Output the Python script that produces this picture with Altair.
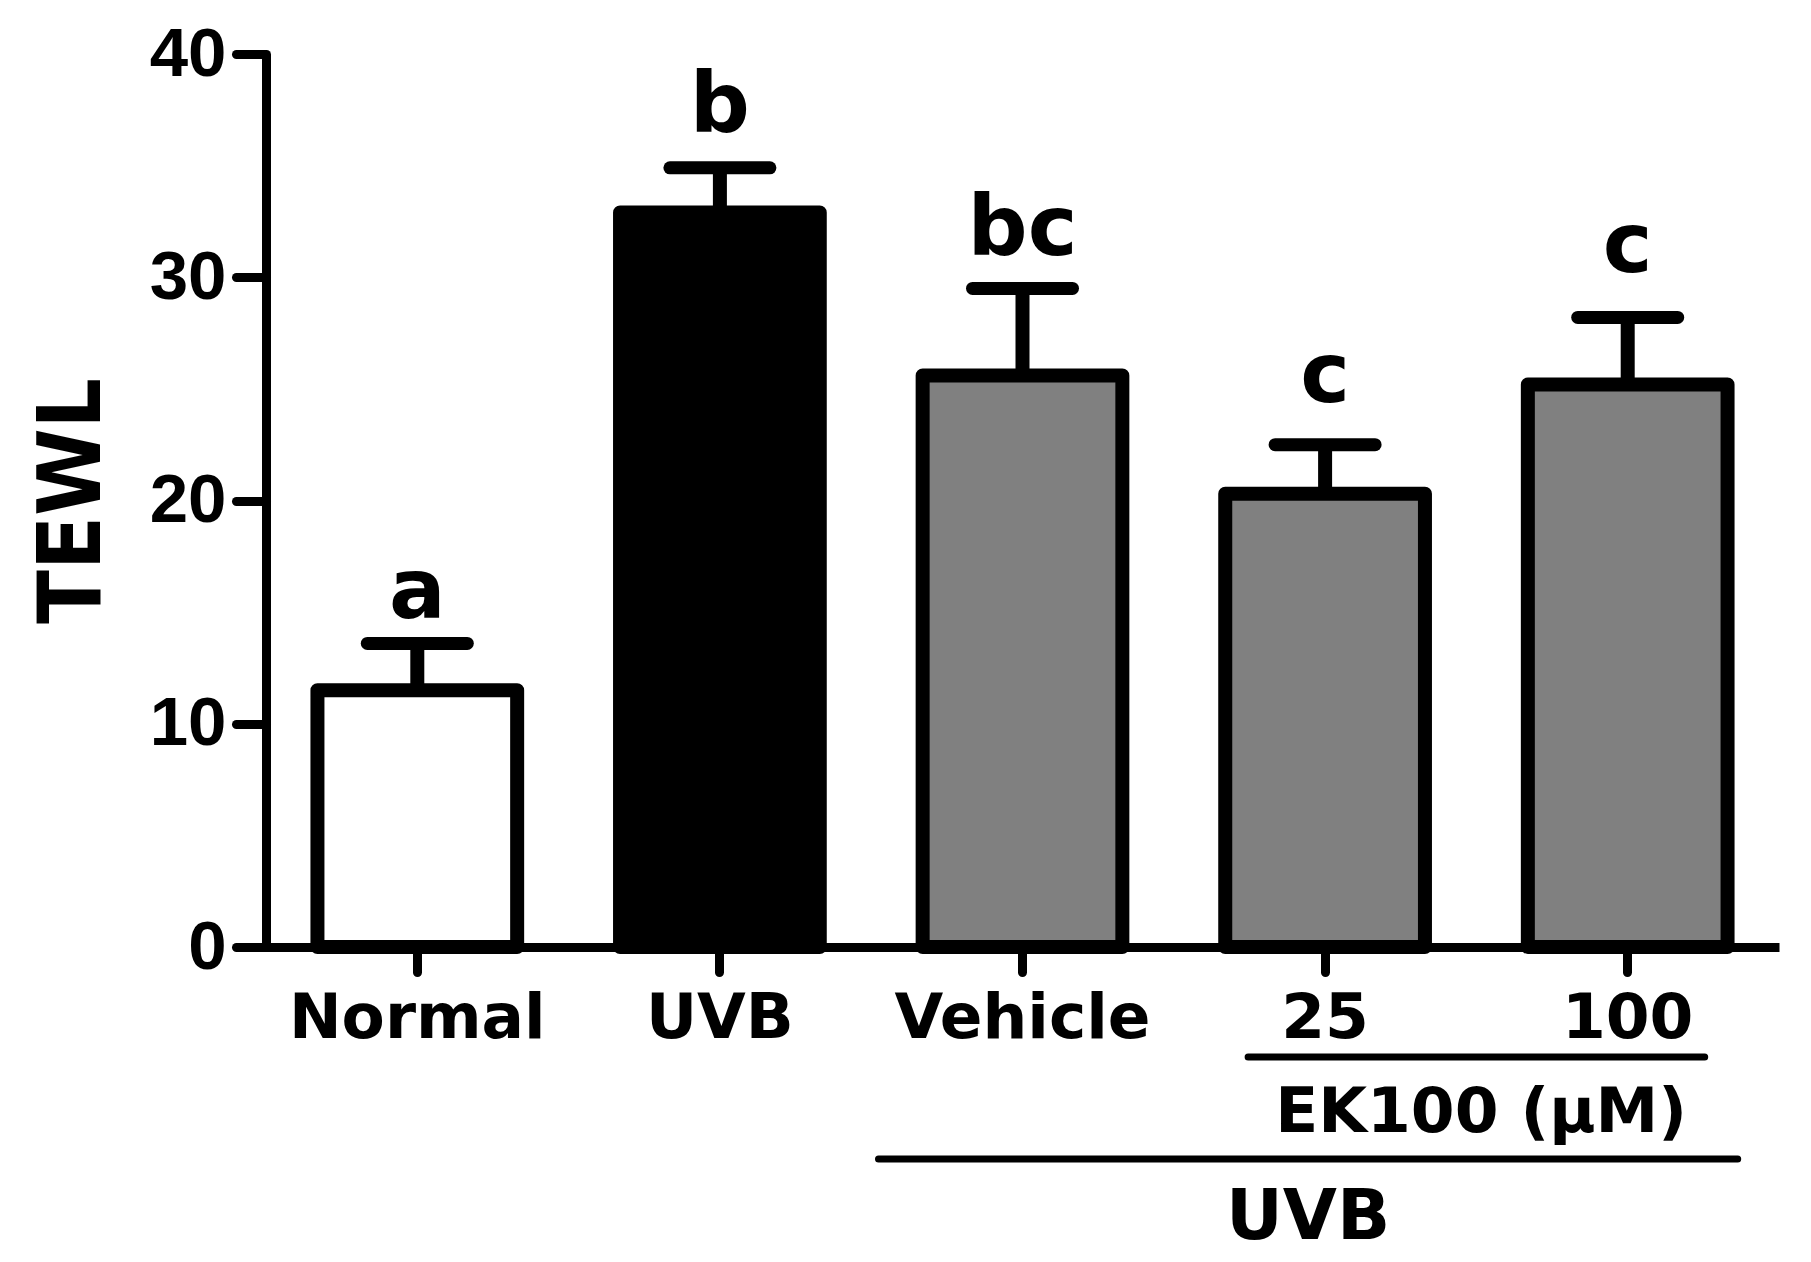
import altair as alt
import pandas as pd

groups = ["Normal", "UVB", "Vehicle", "25", "100"]
means = [11.5, 32.9, 25.6, 20.3, 25.2]
upper = [13.6, 34.9, 29.5, 22.5, 28.2]
letters = ["a", "b", "bc", "c", "c"]
letter_y = [14.75, 36.5, 31.0, 24.4, 30.25]
fills = ["#ffffff", "#000000", "#808080", "#808080", "#808080"]
y_ticks = [0, 10, 20, 30, 40]

bracket_start = ["25", "Vehicle"]
bracket_end = ["100", "100"]
bracket_labels = ["EK100 (\u03bcM)", "UVB"]

df = pd.DataFrame({
    "group": groups,
    "mean": means,
    "upper": upper,
    "letter": letters,
    "letter_y": letter_y,
    "fill": fills,
})

FONT = "Liberation Sans"
WIDE = "DejaVu Sans"
NARROW = "DejaVu Sans Condensed, Liberation Sans"

x_scale = alt.Scale(domain=groups, paddingInner=0.34, paddingOuter=0.17)
x_axis = alt.Axis(
    labelFont=WIDE, labelFontSize=63, labelFontWeight="bold", labelColor="black",
    labelPadding=15, labelAngle=0, labelLimit=0, tickSize=25, tickWidth=9,
    tickColor="black", tickCap="round", domainWidth=9, domainColor="black", grid=False,
)
x_enc = alt.X("group:N", sort=groups, title=None, scale=x_scale, axis=x_axis)

y_scale = alt.Scale(domain=[0, 40], nice=False)
y_axis = alt.Axis(
    values=y_ticks, labelFont=FONT, labelFontSize=69, labelFontWeight="bold",
    labelColor="black", labelPadding=10, labelLimit=0, tickSize=30, tickWidth=9,
    tickColor="black", tickCap="round", domainWidth=9, domainColor="black", grid=False,
    title="TEWL", titleFont=NARROW, titleFontSize=88, titleFontWeight="bold",
    titleColor="black", titleX=-167, titleAngle=270, titleLimit=0,
    titleBaseline="alphabetic", titleAlign="center",
)

base = alt.Chart(df)

bars = base.mark_bar(stroke="black", strokeWidth=14, strokeJoin="round").encode(
    x=x_enc,
    y=alt.Y("mean:Q", scale=y_scale, axis=y_axis),
    fill=alt.Fill("fill:N", scale=None),
)

stems = base.mark_rule(color="black", strokeWidth=14).encode(
    x=x_enc,
    y=alt.Y("mean:Q", scale=y_scale, axis=y_axis),
    y2="upper:Q",
)

caps = base.mark_rule(color="black", strokeWidth=13, strokeCap="round",
                      xOffset=-50, x2Offset=50).encode(
    x=x_enc,
    x2="group:N",
    y=alt.Y("upper:Q", scale=y_scale, axis=y_axis),
)

letter_text = base.mark_text(font=WIDE, fontSize=84, fontWeight="bold",
                             color="black", baseline="alphabetic", align="center").encode(
    x=x_enc,
    y=alt.Y("letter_y:Q", scale=y_scale, axis=y_axis),
    text="letter:N",
)

ek_df = pd.DataFrame({"group": [bracket_start[0]], "end": [bracket_end[0]], "label": [bracket_labels[0]]})
uvb_df = pd.DataFrame({"group": [bracket_start[1]], "end": [bracket_end[1]], "label": [bracket_labels[1]]})
uvb_txt_df = pd.DataFrame({"group": ["25"], "label": [bracket_labels[1]]})

ek_line = alt.Chart(ek_df).mark_rule(
    color="black", strokeWidth=7, strokeCap="round", xOffset=-77, x2Offset=77
).encode(x=x_enc, x2="end:N", y=alt.value(1003))

uvb_line = alt.Chart(uvb_df).mark_rule(
    color="black", strokeWidth=7, strokeCap="round", xOffset=-144, x2Offset=110
).encode(x=x_enc, x2="end:N", y=alt.value(1105))

ek_text = alt.Chart(ek_df).mark_text(
    font=WIDE, fontSize=63, fontWeight="bold", color="black",
    baseline="alphabetic", align="center", xOffset=156,
).encode(x=x_enc, y=alt.value(1078), text="label:N")

uvb_text = alt.Chart(uvb_txt_df).mark_text(
    font=WIDE, fontSize=70, fontWeight="bold", color="black",
    baseline="alphabetic", align="center", xOffset=-17,
).encode(x=x_enc, y=alt.value(1185), text="label:N")

chart = alt.layer(
    bars, stems, caps, letter_text, ek_line, uvb_line, ek_text, uvb_text
).properties(
    width=1513,
    height=893,
    autosize=alt.AutoSizeParams(type="none"),
    padding={"left": 258, "top": 46, "right": 5, "bottom": 311},
    background="white",
).configure_view(stroke=None)

chart.save("out.html", embed_options={"renderer": "svg", "actions": False})
